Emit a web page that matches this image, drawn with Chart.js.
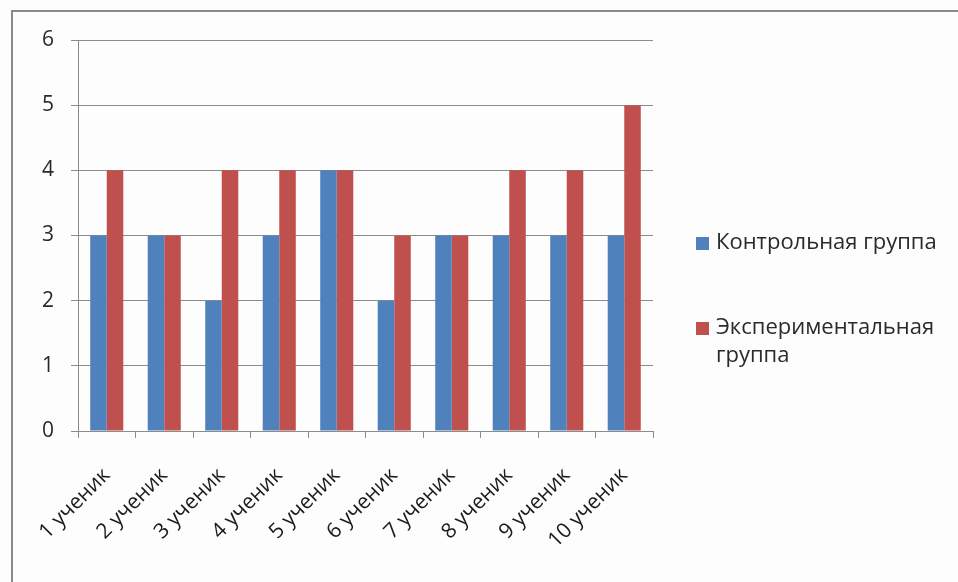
<!DOCTYPE html>
<html>
<head>
<meta charset="utf-8">
<script src="https://cdn.jsdelivr.net/npm/chart.js@4.4.1/dist/chart.umd.min.js"></script>
<style>
  html, body { margin: 0; padding: 0; background: #fdfdfd; }
  #wrap { position: relative; width: 958px; height: 582px; }
</style>
</head>
<body>
<div id="wrap"><canvas id="c" width="958" height="582"></canvas></div>
<script>
const students = ['1 ученик', '2 ученик', '3 ученик', '4 ученик', '5 ученик',
                  '6 ученик', '7 ученик', '8 ученик', '9 ученик', '10 ученик'];
const controlGroup = [3, 3, 2, 3, 4, 2, 3, 3, 3, 3];
const experimentalGroup = [4, 3, 4, 4, 4, 3, 3, 4, 4, 5];
const seriesNames = ['Контрольная группа', ['Экспериментальная', 'группа']];
const yTicks = [0, 1, 2, 3, 4, 5, 6];

const FONT = '"Open Sans", "Noto Sans", sans-serif';
const BLUE = '#4F81BD';
const RED = '#C0504D';
const GRID = '#8c8c8c';

// frame around the chart (top and left edges visible)
const framePlugin = {
  id: 'frame',
  beforeDraw(chart) {
    const ctx = chart.ctx;
    ctx.save();
    ctx.fillStyle = '#fdfdfd';
    ctx.fillRect(0, 0, chart.width, chart.height);
    ctx.strokeStyle = '#8a8a8a';
    ctx.lineWidth = 2;
    ctx.beginPath();
    ctx.moveTo(12, chart.height);
    ctx.lineTo(12, 11);
    ctx.lineTo(chart.width, 11);
    ctx.stroke();
    ctx.restore();
  }
};

// legend on the right, with a wrapped second entry
const sideLegend = {
  id: 'sideLegend',
  afterDraw(chart) {
    const ctx = chart.ctx;
    const items = [
      { color: chart.data.datasets[0].backgroundColor, lines: [].concat(seriesNames[0]), y: 243 },
      { color: chart.data.datasets[1].backgroundColor, lines: [].concat(seriesNames[1]), y: 328 }
    ];
    ctx.save();
    ctx.font = '22px ' + FONT;
    ctx.textBaseline = 'middle';
    ctx.textAlign = 'left';
    items.forEach(it => {
      ctx.fillStyle = it.color;
      ctx.fillRect(696, it.y - 6, 13, 13);
      ctx.fillStyle = '#2a2a2a';
      it.lines.forEach((ln, i) => ctx.fillText(ln, 716, it.y + i * 28));
    });
    ctx.restore();
  }
};

new Chart(document.getElementById('c'), {
  type: 'bar',
  data: {
    labels: students,
    datasets: [
      { label: 'Контрольная группа', data: controlGroup, backgroundColor: BLUE },
      { label: 'Экспериментальная группа', data: experimentalGroup, backgroundColor: RED }
    ]
  },
  options: {
    responsive: false,
    animation: false,
    layout: { padding: { left: 0, top: 40, right: 305, bottom: 0 } },
    datasets: { bar: { categoryPercentage: 0.575, barPercentage: 1.0 } },
    plugins: { legend: { display: false }, tooltip: { enabled: false } },
    scales: {
      x: {
        grid: { drawOnChartArea: false, drawTicks: true, tickLength: 7, color: GRID, offset: true },
        border: { color: GRID, width: 1 },
        ticks: {
          color: '#1a1a1a', font: { family: FONT, size: 21 },
          minRotation: 45, maxRotation: 45, autoSkip: false, padding: 25
        },
        afterFit(s) { s.height = 151; }
      },
      y: {
        min: 0, max: 6,
        afterBuildTicks(s) { s.ticks = yTicks.map(v => ({ value: v })); },
        grid: { color: GRID, tickLength: 7 },
        border: { color: GRID, width: 1 },
        ticks: { color: '#2a2a2a', font: { family: FONT, size: 21 }, padding: 17 },
        afterFit(s) { s.width = 78; }
      }
    }
  },
  plugins: [framePlugin, sideLegend]
});
</script>
</body>
</html>
